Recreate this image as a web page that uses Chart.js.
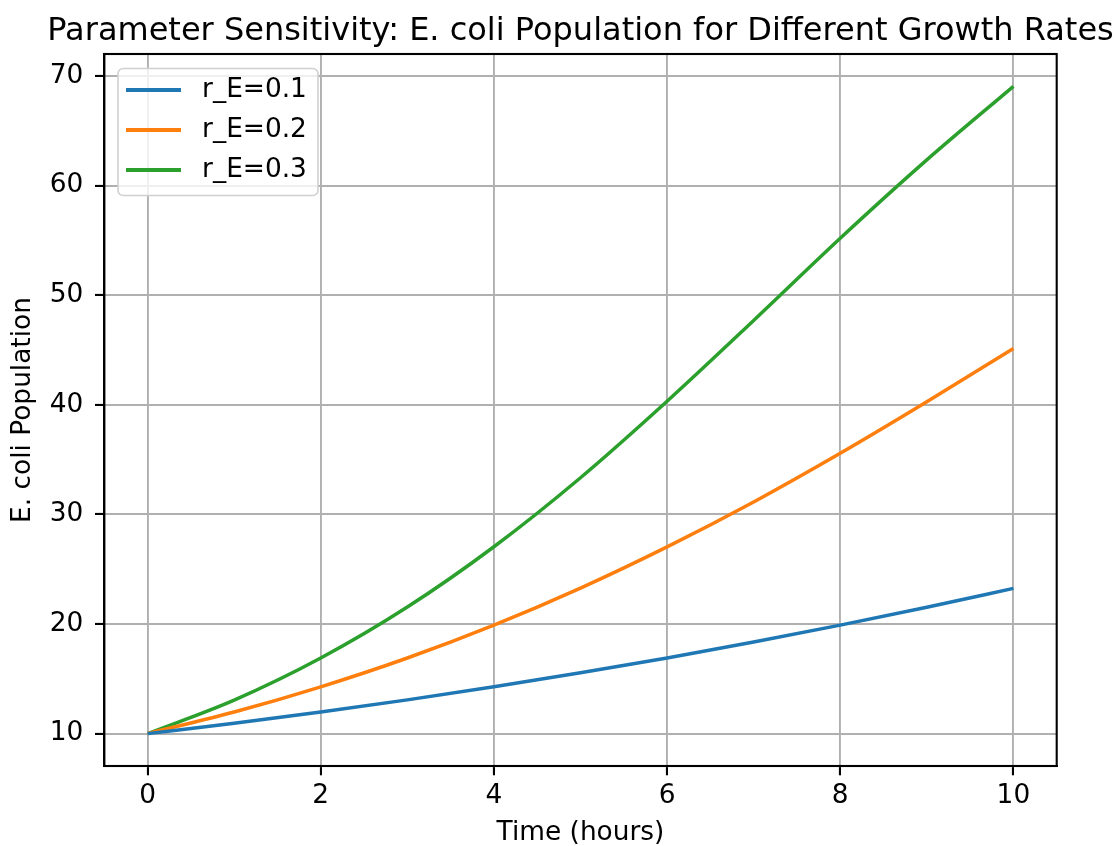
<!DOCTYPE html>
<html>
<head>
<meta charset="utf-8">
<script src="https://cdn.jsdelivr.net/npm/chart.js@4/dist/chart.umd.min.js"></script>
<style>
  html, body { margin: 0; padding: 0; background: #ffffff; }
  #wrap { width: 1117px; height: 846px; }
</style>
</head>
<body>
<div id="wrap"><canvas id="c" width="1117" height="846"></canvas></div>
<script>
// ---- data ----
const hours = [0, 1, 2, 3, 4, 5, 6, 7, 8, 9, 10];
const rE01 = [10, 10.95, 11.98, 13.08, 14.27, 15.55, 16.91, 18.36, 19.9, 21.53, 23.25];
const rE02 = [10, 11.97, 14.27, 16.9, 19.9, 23.28, 27.04, 31.14, 35.58, 40.28, 45.15];
const rE03 = [10, 13.06, 16.9, 21.55, 27.05, 33.35, 40.33, 47.7, 55.2, 62.35, 69.06];
const seriesLabels = ['r_E=0.1', 'r_E=0.2', 'r_E=0.3'];
const xTicks = [0, 2, 4, 6, 8, 10];
const yTicks = [10, 20, 30, 40, 50, 60, 70];
const titleText = 'Parameter Sensitivity: E. coli Population for Different Growth Rates';
const xLabel = 'Time (hours)';
const yLabel = 'E. coli Population';

// ---- styles ----
const colors = ['#1f77b4', '#ff7f0e', '#2ca02c'];
const FONT = 'DejaVu Sans';
const FS = 26.4;
const GRID = '#b0b0b0';
Chart.defaults.color = '#000000';
Chart.defaults.font.family = FONT;

function swatch(color) {
  const c = document.createElement('canvas');
  c.width = 55; c.height = 4;
  const g = c.getContext('2d');
  g.fillStyle = color;
  g.fillRect(0, 0, 55, 4);
  return c;
}

const seriesValues = [rE01, rE02, rE03];
const datasets = seriesValues.map((vals, i) => ({
  label: seriesLabels[i],
  data: hours.map((h, j) => ({ x: h, y: vals[j] })),
  borderColor: colors[i],
  backgroundColor: colors[i],
  borderWidth: 3.5,
  pointRadius: 0,
  fill: false,
  cubicInterpolationMode: 'monotone'
}));

const framePlugin = {
  id: 'axesFrame',
  afterInit(chart) {
    const lg = chart.legend;
    if (!lg || lg._framed) return;
    lg._framed = true;
    const orig = lg.draw;
    lg.draw = function () {
      const ca = chart.chartArea;
      const ctx = chart.ctx;
      const x = ca.left + 13.7, y = ca.top + 14.5, w = 200, h = 127, r = 5.3;
      ctx.save();
      ctx.beginPath();
      ctx.moveTo(x + r, y);
      ctx.arcTo(x + w, y, x + w, y + h, r);
      ctx.arcTo(x + w, y + h, x, y + h, r);
      ctx.arcTo(x, y + h, x, y, r);
      ctx.arcTo(x, y, x + w, y, r);
      ctx.closePath();
      ctx.fillStyle = 'rgba(255,255,255,0.8)';
      ctx.fill();
      ctx.lineWidth = 1.6;
      ctx.strokeStyle = '#d0d0d0';
      ctx.stroke();
      ctx.restore();
      return orig.apply(this, arguments);
    };
  },
  afterDatasetsDraw(chart) {
    const ca = chart.chartArea;
    const ctx = chart.ctx;
    ctx.save();
    ctx.strokeStyle = '#000000';
    ctx.lineWidth = 2.1;
    ctx.strokeRect(ca.left, ca.top, ca.right - ca.left, ca.bottom - ca.top);
    ctx.restore();
  }
};

new Chart(document.getElementById('c'), {
  type: 'line',
  data: { datasets },
  plugins: [framePlugin],
  options: {
    responsive: false,
    animation: false,
    devicePixelRatio: 1,
    layout: { padding: { left: 44, right: 0, top: 0, bottom: 0 } },
    plugins: {
      tooltip: { enabled: false },
      title: {
        display: true,
        text: titleText,
        color: '#000000',
        font: { family: FONT, size: 32, weight: 'normal' },
        padding: { top: 12, bottom: 3.6 }
      },
      legend: {
        position: 'chartArea',
        align: 'start',
        title: { display: true, text: '', font: { size: 1, lineHeight: 1 }, padding: { top: 62.2, bottom: 0 } },
        labels: {
          usePointStyle: true,
          pointStyleWidth: 71,
          padding: 13.6,
          color: '#000000',
          font: { family: FONT, size: FS },
          generateLabels(chart) {
            const items = Chart.defaults.plugins.legend.labels.generateLabels(chart);
            return items.map((it, i) => Object.assign(it, { pointStyle: swatch(colors[i]) }));
          }
        }
      }
    },
    scales: {
      x: {
        type: 'linear',
        min: -0.5,
        max: 10.5,
        afterBuildTicks(s) { s.ticks = xTicks.map(v => ({ value: v })); },
        afterFit(s) { s.height = 80; },
        ticks: {
          autoSkip: false, maxRotation: 0, padding: 5.4,
          font: { family: FONT, size: FS }, color: '#000000',
          callback: (v) => String(v)
        },
        grid: { color: GRID, lineWidth: 1.9, z: -1, tickLength: 9.3, tickColor: '#000000', tickWidth: 2.1 },
        border: { display: true, color: '#000000', width: 2.1 },
        title: { display: true, text: xLabel, color: '#000000', font: { family: FONT, size: FS }, padding: { top: 0, bottom: -3 } }
      },
      y: {
        type: 'linear',
        min: 7.047,
        max: 72.01,
        afterBuildTicks(s) { s.ticks = yTicks.map(v => ({ value: v })); },
        afterFit(s) { s.width = 60.3; },
        ticks: {
          autoSkip: false, padding: 11.6,
          font: { family: FONT, size: FS }, color: '#000000',
          callback: (v) => String(v)
        },
        grid: { color: GRID, lineWidth: 1.9, z: -1, tickLength: 9.3, tickColor: '#000000', tickWidth: 2.1 },
        border: { display: true, color: '#000000', width: 2.1 },
        title: { display: true, text: yLabel, color: '#000000', font: { family: FONT, size: FS }, padding: { top: -36.8, bottom: 0 } }
      },
      y2: {
        type: 'linear',
        position: 'right',
        display: true,
        afterFit(s) { s.width = 60.3; },
        ticks: { display: false },
        grid: { display: false, drawTicks: false },
        border: { display: false }
      }
    }
  }
});
</script>
</body>
</html>
